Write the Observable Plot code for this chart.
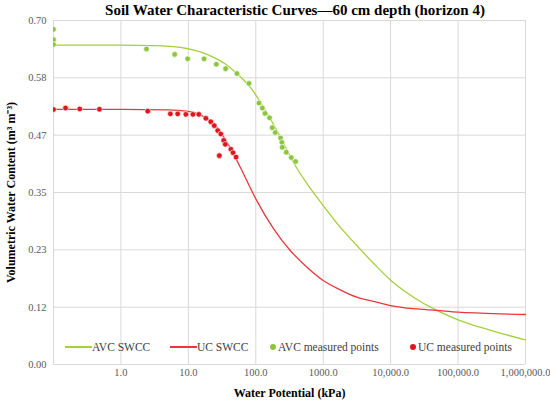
<!DOCTYPE html>
<html><head><meta charset="utf-8">
<script src="https://cdn.jsdelivr.net/npm/d3@7"></script>
<script src="https://cdn.jsdelivr.net/npm/@observablehq/plot@0.6"></script>
<style>
body{margin:0;background:#fff;}
#wrap{position:relative;width:550px;height:401px;font-family:"Liberation Serif",serif;overflow:hidden;}
#title{position:absolute;top:2px;left:40px;width:510px;text-align:center;font-weight:bold;font-size:15px;color:#000;}
.leg{position:absolute;top:340px;height:14px;font-size:11.5px;color:#404040;display:flex;align-items:center;white-space:nowrap;}
.sw{display:inline-block;width:27px;height:2px;}
.dt{display:inline-block;width:6px;height:6px;border-radius:50%;margin-right:2px;}
</style></head><body>
<div id="wrap"><div id="title">Soil Water Characteristic Curves—60 cm depth (horizon 4)</div></div>
<script>
// Fitted curves
const avcCurveKPa   = [0.1, 1, 3, 6, 9.5, 15, 23.7, 35, 47, 65, 83, 130, 200, 385, 574, 1000, 1786, 3155, 5560, 10000, 21800, 48300, 100000, 212000, 1000000];
const avcCurveTheta = [0.650, 0.650, 0.649, 0.647, 0.643, 0.636, 0.625, 0.612, 0.598, 0.580, 0.564, 0.524, 0.479, 0.405, 0.368, 0.3235, 0.2794, 0.2421, 0.206, 0.1715, 0.137, 0.110, 0.091, 0.076, 0.050];
const ucCurveKPa    = [0.1, 1, 5, 10, 15, 23.7, 37.5, 58.9, 100, 184, 324, 574, 1000, 1786, 3155, 5560, 10000, 21800, 48300, 100000, 212000, 1000000];
const ucCurveTheta  = [0.519, 0.519, 0.518, 0.515, 0.508, 0.490, 0.452, 0.4015, 0.337, 0.276, 0.232, 0.198, 0.171, 0.152, 0.137, 0.1285, 0.120, 0.1135, 0.110, 0.1065, 0.1045, 0.1017];
// Measured points
const avcPtsKPa   = [0.1, 0.1, 0.1, 2.39, 6.27, 9.77, 17.1, 26, 35.7, 52.6, 79.3, 111.5, 125, 137, 160, 175.5, 194.5, 233, 244, 247, 283, 336, 389];
const avcPtsTheta = [0.682, 0.661, 0.651, 0.642, 0.631, 0.622, 0.622, 0.611, 0.602, 0.592, 0.572, 0.532, 0.522, 0.511, 0.502, 0.482, 0.472, 0.461, 0.452, 0.442, 0.432, 0.421, 0.413];
const ucPtsKPa    = [0.1, 0.151, 0.245, 0.48, 2.5, 5.41, 6.95, 9.2, 11.7, 14.3, 18.2, 21.5, 24.2, 27.3, 30.3, 33.5, 35.3, 42.8, 46, 51, 28.8];
const ucPtsTheta  = [0.519, 0.522, 0.520, 0.5195, 0.5155, 0.510, 0.510, 0.509, 0.509, 0.509, 0.501, 0.494, 0.486, 0.476, 0.469, 0.456, 0.448, 0.438, 0.431, 0.422, 0.425];
// Axes
const xTicks = [1, 10, 100, 1000, 10000, 100000, 1000000];
const xTickLabels = ["1.0", "10.0", "100.0", "1000.0", "10,000.0", "100,000.0", "1,000,000.0"];
const xGrid = [0.1, 1, 10, 100, 1000, 10000, 100000, 1000000];
const yTicks = [0, 0.11667, 0.23333, 0.35, 0.46667, 0.58333, 0.70];
const yTickLabels = ["0.00", "0.12", "0.23", "0.35", "0.47", "0.58", "0.70"];
const seriesNames = ["AVC SWCC", "UC SWCC", "AVC measured points", "UC measured points"];
const colors = {avcLine: "#a5cf3c", ucLine: "#e8383d", avcDot: "#8cc63f", ucDot: "#e3141c"};

const zip = (xs, ys) => xs.map((x, i) => ({x, y: ys[i]}));
const avcCurve = zip(avcCurveKPa, avcCurveTheta);
const ucCurve = zip(ucCurveKPa, ucCurveTheta);
const avcPts = zip(avcPtsKPa, avcPtsTheta);
const ucPts = zip(ucPtsKPa, ucPtsTheta);
const xLab = new Map(xTicks.map((d, i) => [d, xTickLabels[i]]));
const yLab = new Map(yTicks.map((d, i) => [d, yTickLabels[i]]));

const chart = Plot.plot({
  width: 550, height: 401,
  marginLeft: 53, marginRight: 25, marginTop: 20, marginBottom: 37,
  x: {type: "log", domain: [0.1, 1000000]},
  y: {domain: [0, 0.7]},
  style: {fontFamily: "'Liberation Serif', serif", fontSize: "10.5px", color: "#595959", background: "transparent"},
  marks: [
    Plot.ruleX(xGrid, {stroke: "#d9d9d9", strokeWidth: 1}),
    Plot.ruleY(yTicks, {stroke: "#d9d9d9", strokeWidth: 1}),
    Plot.axisX(xTicks, {tickSize: 0, tickPadding: 4, tickFormat: d => xLab.get(d), label: "Water Potential (kPa)", labelAnchor: "center", labelArrow: "none", labelOffset: 32}),
    Plot.axisY(yTicks, {tickSize: 0, tickPadding: 7, tickFormat: d => yLab.get(d), label: "Volumetric Water Content (m³ m⁻³)", labelAnchor: "center", labelArrow: "none", labelOffset: 47}),
    Plot.line(avcCurve, {x: "x", y: "y", stroke: colors.avcLine, strokeWidth: 1.3, curve: "monotone-x"}),
    Plot.line(ucCurve, {x: "x", y: "y", stroke: colors.ucLine, strokeWidth: 1.3, curve: "monotone-x"}),
    Plot.dot(avcPts, {x: "x", y: "y", r: 2.8, fill: colors.avcDot, stroke: "white", strokeWidth: 0.6, clip: true}),
    Plot.dot(ucPts, {x: "x", y: "y", r: 2.8, fill: colors.ucDot, stroke: "white", strokeWidth: 0.6, clip: true})
  ]
});
const wrap = document.getElementById("wrap");
wrap.appendChild(chart);
d3.select(chart).selectAll('g[aria-label="x-axis label"], g[aria-label="y-axis label"]')
  .attr("font-weight", "bold").attr("fill", "#000").attr("font-size", "12px");

// Legend
const legendItems = [
  {name: seriesNames[0], kind: "line", color: colors.avcLine, left: 65},
  {name: seriesNames[1], kind: "line", color: colors.ucLine, left: 170},
  {name: seriesNames[2], kind: "dot", color: colors.avcDot, left: 270},
  {name: seriesNames[3], kind: "dot", color: colors.ucDot, left: 410}
];
for (const it of legendItems) {
  const d = document.createElement("div");
  d.className = "leg";
  d.style.left = it.left + "px";
  const s = document.createElement("span");
  s.className = it.kind === "line" ? "sw" : "dt";
  s.style.background = it.color;
  d.appendChild(s);
  const t = document.createElement("span");
  t.textContent = it.name;
  d.appendChild(t);
  wrap.appendChild(d);
}
chart.style.position = "absolute"; chart.style.left = "0"; chart.style.top = "0";
document.getElementById("title").style.zIndex = 2;
</script>
</body></html>
